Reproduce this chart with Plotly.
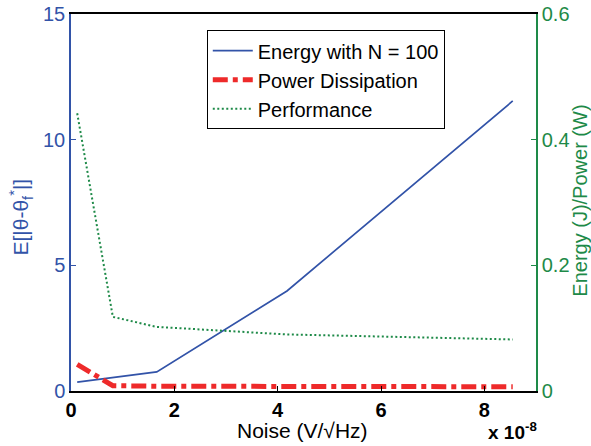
import plotly.graph_objects as go

noise = [0.12, 0.81, 1.66, 4.18, 8.55]
energy = [0.35, 0.53, 0.76, 3.98, 11.54]
power = [1.06, 0.21, 0.19, 0.18, 0.17]
performance = [0.442, 0.118, 0.102, 0.090, 0.082]

x_ticks = [0, 2, 4, 6, 8]
y1_ticks = [0, 5, 10, 15]
y2_ticks = [0, 0.2, 0.4, 0.6]

BLUE = "#3253a8"
RED = "#ee2a2a"
GREEN = "#1e8a48"
FONT = "Liberation Sans, Arial, sans-serif"

fig = go.Figure()
fig.add_trace(go.Scatter(x=noise, y=energy, name="Energy with N = 100", mode="lines",
                         line=dict(color=BLUE, width=1.7)))
fig.add_trace(go.Scatter(x=noise, y=power, name="Power Dissipation", mode="lines",
                         line=dict(color=RED, width=5, dash="15px,5px,5px,5px")))
fig.add_trace(go.Scatter(x=noise, y=performance, name="Performance", mode="lines",
                         line=dict(color=GREEN, width=2, dash="2px,2.5px"), yaxis="y2"))

fig.update_layout(
    width=591, height=446,
    margin=dict(l=71, r=55, t=14, b=55),
    paper_bgcolor="white", plot_bgcolor="white",
    font=dict(family=FONT, size=20, color="black"),
    showlegend=True,
    legend=dict(x=0.292, y=0.957, xanchor="left", yanchor="top",
                bordercolor="black", borderwidth=1, bgcolor="white", itemwidth=40,
                font=dict(size=20, color="black"), tracegroupgap=0),
    xaxis=dict(range=[0, 9], tickvals=x_ticks, ticktext=[f"<b>{v}</b>" for v in x_ticks],
               ticks="inside", ticklen=5, tickcolor="black", showline=True, linecolor="black",
               linewidth=1.5, mirror=True, showgrid=False, zeroline=False, automargin=False,
               tickfont=dict(size=20, color="black")),
    yaxis=dict(range=[0, 15], tickvals=y1_ticks, ticks="inside", ticklen=5, tickcolor=BLUE,
               showline=True, linecolor=BLUE, linewidth=1.5, showgrid=False, zeroline=False,
               automargin=False, tickfont=dict(size=20, color=BLUE)),
    yaxis2=dict(range=[0, 0.6], tickvals=y2_ticks, ticktext=["0", "0.2", "0.4", "0.6"],
                overlaying="y", side="right", ticks="inside", ticklen=5, tickcolor=GREEN,
                showline=True, linecolor=GREEN, linewidth=1.5, showgrid=False, zeroline=False,
                automargin=False, tickfont=dict(size=20, color=GREEN)),
    annotations=[
        dict(text="Noise (V/√Hz)", xref="paper", yref="paper", x=0.497, y=-0.106,
             xanchor="center", yanchor="middle", showarrow=False,
             font=dict(size=21, color="black")),
        dict(text="<b>x 10</b><sup><b>-8</b></sup>", xref="paper", yref="paper",
             x=0.8925, y=-0.106, xanchor="left", yanchor="middle", showarrow=False,
             font=dict(size=19, color="black")),
        dict(text="E[|θ-θ<sub>f</sub><sup>*</sup>|]", xref="paper", yref="paper",
             x=-0.1075, y=0.46, xanchor="center", yanchor="middle", textangle=-90,
             showarrow=False, font=dict(size=21, color=BLUE)),
        dict(text="Energy (J)/Power (W)", xref="paper", yref="paper",
             x=1.094, y=0.504, xanchor="center", yanchor="middle", textangle=-90,
             showarrow=False, font=dict(size=20, color=GREEN)),
    ],
)

fig.write_html("out.html")
